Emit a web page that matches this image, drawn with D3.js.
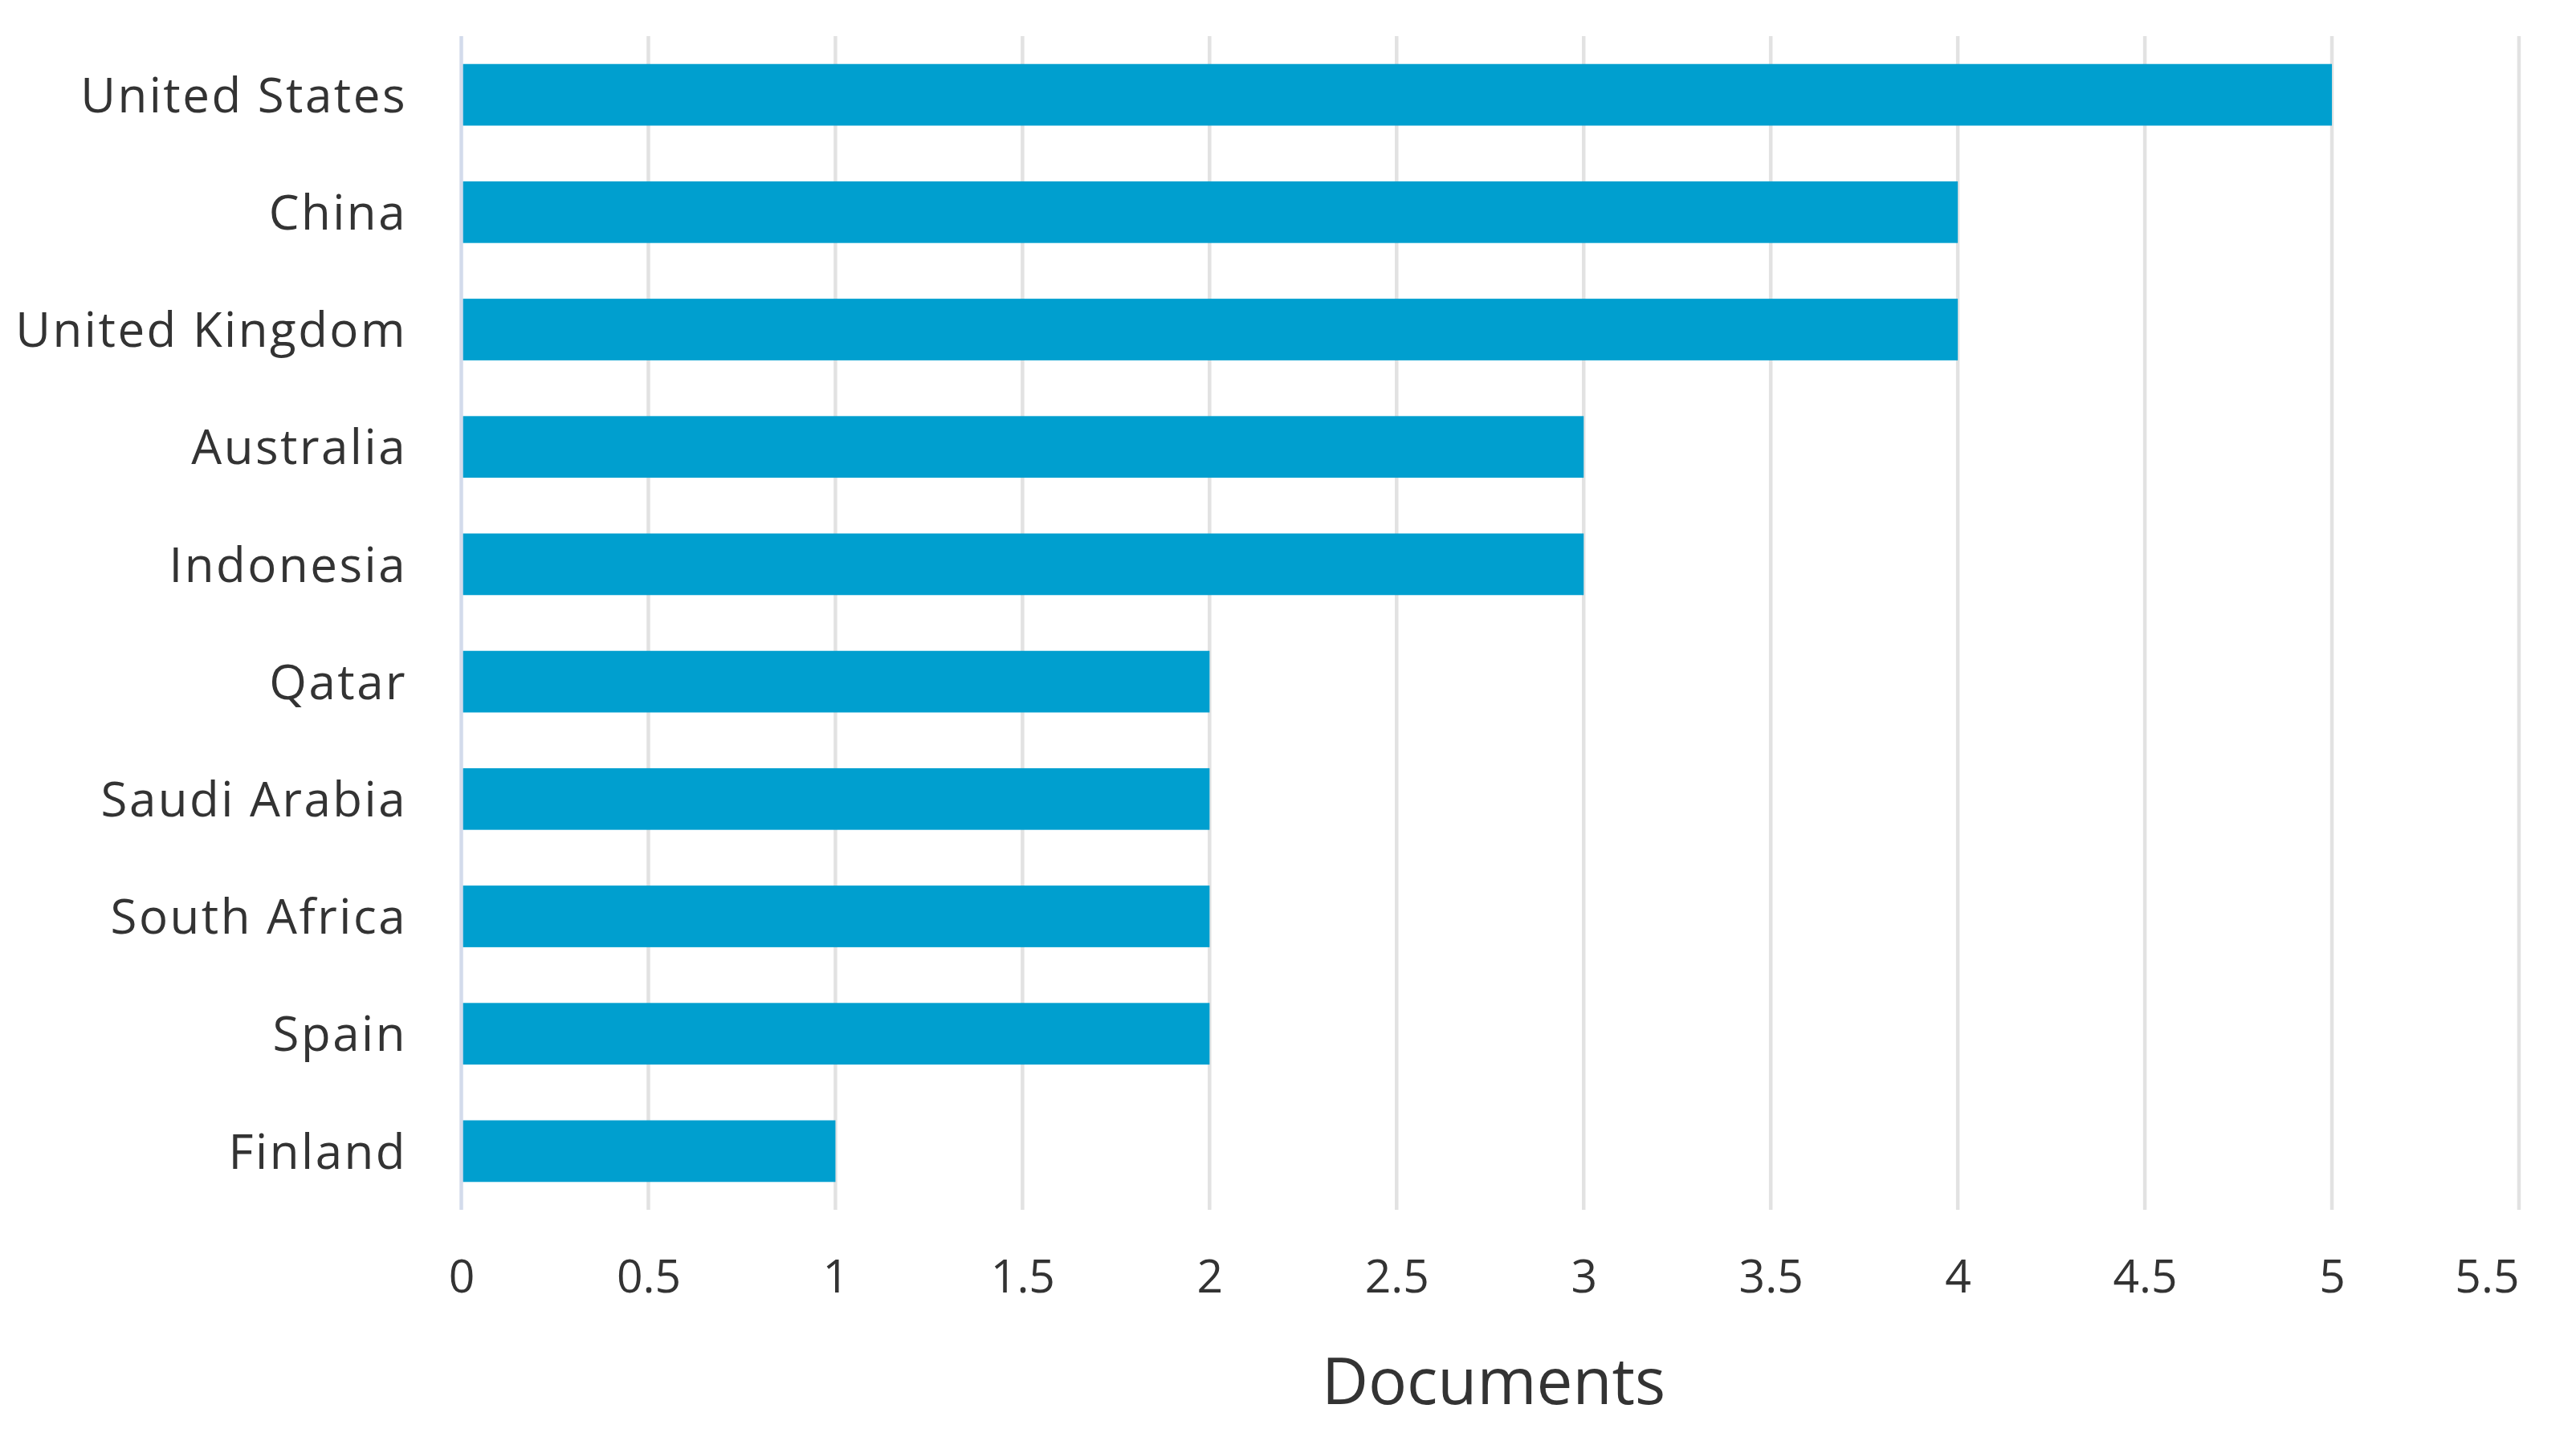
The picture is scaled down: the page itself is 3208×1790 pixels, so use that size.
<!DOCTYPE html>
<html>
<head>
<meta charset="utf-8">
<script src="https://cdn.jsdelivr.net/npm/d3@7"></script>
<style>
  html, body { margin: 0; padding: 0; background: #fff; }
  svg { display: block; }
</style>
</head>
<body>
<script>
const categories = ["United States", "China", "United Kingdom", "Australia", "Indonesia", "Qatar", "Saudi Arabia", "South Africa", "Spain", "Finland"];
const values = [5, 4, 4, 3, 3, 2, 2, 2, 2, 1];
const tickValues = [0, 0.5, 1, 1.5, 2, 2.5, 3, 3.5, 4, 4.5, 5, 5.5];
const axisTitle = "Documents";

(function () {
const W = 3208, H = 1790;
const plotLeft = 574.5, plotRight = 3137, plotTop = 45, plotBottom = 1507;

const svg = d3.select("body").append("svg").attr("width", W).attr("height", H);

const x = d3.scaleLinear().domain([0, 5.5]).range([plotLeft, plotRight]);
const y = d3.scaleBand().domain(categories).range([plotTop, plotBottom]).paddingInner(0.475).paddingOuter(0.2375);

// gridlines
svg.append("g").selectAll("line").data(tickValues.filter(d => d > 0)).join("line")
  .attr("x1", d => x(d)).attr("x2", d => x(d))
  .attr("y1", plotTop).attr("y2", plotBottom)
  .attr("stroke", "#e2e2e2").attr("stroke-width", 4.5);

// bars
svg.append("g").selectAll("rect").data(categories).join("rect")
  .attr("x", x(0))
  .attr("y", d => y(d))
  .attr("width", (d, i) => x(values[i]) - x(0))
  .attr("height", y.bandwidth())
  .attr("fill", "#009fcf");

// axis line
svg.append("line")
  .attr("x1", x(0)).attr("x2", x(0)).attr("y1", plotTop).attr("y2", plotBottom)
  .attr("stroke", "#d3dbeb").attr("stroke-width", 4.5);

// x axis tick labels
const xAxis = d3.axisBottom(x).tickValues(tickValues).tickSize(0).tickPadding(0)
  .tickFormat(d => d3.format("")(d));
const gx = svg.append("g").attr("transform", `translate(0, ${1610})`).call(xAxis);
gx.select(".domain").remove();
gx.selectAll("text")
  .attr("y", 0).attr("dy", 0)
  .attr("font-family", "'Open Sans', sans-serif")
  .attr("font-size", 57)
  .attr("fill", "#333");
// last label is pulled inside the chart edge
gx.selectAll(".tick").filter(d => d === tickValues[tickValues.length - 1]).select("text")
  .attr("text-anchor", "end").attr("x", 0);

// y axis labels
const yAxis = d3.axisLeft(y).tickSize(0).tickPadding(0);
const gy = svg.append("g").attr("transform", `translate(507, 0)`).call(yAxis);
gy.select(".domain").remove();
gy.selectAll("text")
  .attr("x", 0).attr("dy", "0.36em")
  .attr("font-family", "'Open Sans', sans-serif")
  .attr("font-size", 60)
  .attr("letter-spacing", 2.5)
  .attr("fill", "#333");

// axis title
svg.append("text")
  .attr("x", 1860).attr("y", 1749)
  .attr("text-anchor", "middle")
  .attr("font-family", "'Open Sans', sans-serif")
  .attr("font-size", 80)
  .attr("fill", "#333")
  .text(axisTitle);
})();
</script>
</body>
</html>
